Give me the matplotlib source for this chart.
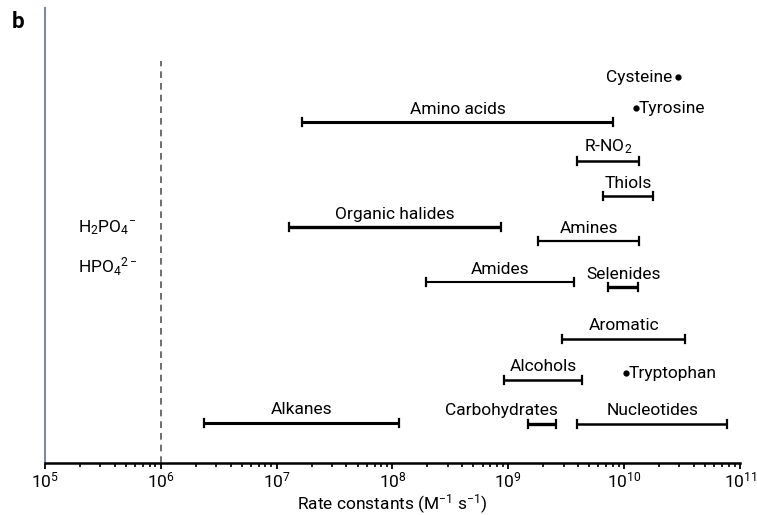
import numpy as np
import matplotlib
matplotlib.use("Agg")
import matplotlib.pyplot as plt

plt.rcParams['font.family'] = ['Roboto', 'DejaVu Sans']
plt.rcParams['mathtext.fontset'] = 'custom'
plt.rcParams['mathtext.rm'] = 'Roboto'
plt.rcParams['mathtext.it'] = 'Roboto'

# Range data: name, low, high, row level
ranges = ['Amino acids', 'R-NO$_2$', 'Thiols', 'Organic halides', 'Amines',
          'Amides', 'Selenides', 'Aromatic', 'Alcohols', 'Alkanes',
          'Carbohydrates', 'Nucleotides']
lows = [1.66e7, 3.93e9, 6.6e9, 1.28e7, 1.81e9, 1.95e8, 7.3e9, 2.92e9, 9.2e8,
        2.36e6, 1.48e9, 3.93e9]
highs = [8.0e9, 1.35e10, 1.78e10, 8.7e8, 1.35e10, 3.7e9, 1.32e10, 3.36e10,
         4.34e9, 1.14e8, 2.59e9, 7.75e10]
levels = [341, 302, 267, 236, 222, 181, 176, 124, 83, 40, 39, 39]
widths = [2.2, 1.8, 1.8, 2.4, 1.6, 1.5, 2.4, 1.8, 1.8, 2.2, 2.4, 1.8]
# label centre shifts for a few labels (None = centred on the bar)
label_x = [None, None, None, None, None, None, None, None, None, None, 8.7e8, None]

# Single amino acids
points = ['Cysteine', 'Tyrosine', 'Tryptophan']
point_vals = [2.93e10, 1.27e10, 1.04e10]
point_levels = [386, 355, 90]
point_side = ['left', 'right', 'right']

FS = 12.5

fig = plt.figure(figsize=(7.57, 5.15), dpi=100)
ax = fig.add_axes([0.0594, 0.101, 0.9181, 0.883])

for name, lo, hi, y, lw, lx in zip(ranges, lows, highs, levels, widths, label_x):
    ax.plot([lo, hi], [y, y], color='black', lw=lw, solid_capstyle='butt')
    for xe in (lo, hi):
        ax.plot([xe, xe], [y - 4, y + 4], color='black', lw=1.6)
    xc = lx if lx is not None else np.sqrt(lo * hi)
    ax.annotate(name, (xc, y), xytext=(0, 4), textcoords='offset points',
                ha='center', va='bottom', fontsize=FS)

for name, v, y, side in zip(points, point_vals, point_levels, point_side):
    ax.plot(v, y, 'o', color='black', ms=3.5)
    if side == 'left':
        ax.annotate(name, (v, y), xytext=(-4, 0), textcoords='offset points',
                    ha='right', va='center', fontsize=FS)
    else:
        ax.annotate(name, (v, y), xytext=(2, 0), textcoords='offset points',
                    ha='left', va='center', fontsize=FS)

# phosphate threshold
ax.plot([1e6, 1e6], [0, 402], color='#555555', lw=1.2, ls=(0, (4, 3)))
ax.text(1.93e5, 235, r'H$_2$PO$_4$$^{-}$', fontsize=FS, ha='left', va='center')
ax.text(1.93e5, 196, r'HPO$_4$$^{2-}$', fontsize=FS, ha='left', va='center')

ax.set_xscale('log')
ax.set_xlim(1e5, 1e11)
ax.set_ylim(0, 455)
ax.set_yticks([])
ax.set_xticks([1e5, 1e6, 1e7, 1e8, 1e9, 1e10, 1e11])
ax.set_xticklabels(['10$^{%d}$' % e for e in range(5, 12)], fontsize=12.5)
ax.tick_params(axis='x', which='major', direction='out', length=4, width=1.3, pad=1.5)
ax.tick_params(axis='x', which='minor', direction='out', length=3, width=1.2)
ax.set_xlabel('Rate constants (M$^{-1}$ s$^{-1}$)', fontsize=12.5, labelpad=1)

for s in ('top', 'right'):
    ax.spines[s].set_visible(False)
ax.spines['bottom'].set_linewidth(1.8)
ax.spines['left'].set_color('#7d8aa0')
ax.spines['left'].set_linewidth(1.5)

fig.text(0.016, 0.945, 'b', fontsize=16, fontweight='bold')

fig.savefig('out.png', dpi=100)
